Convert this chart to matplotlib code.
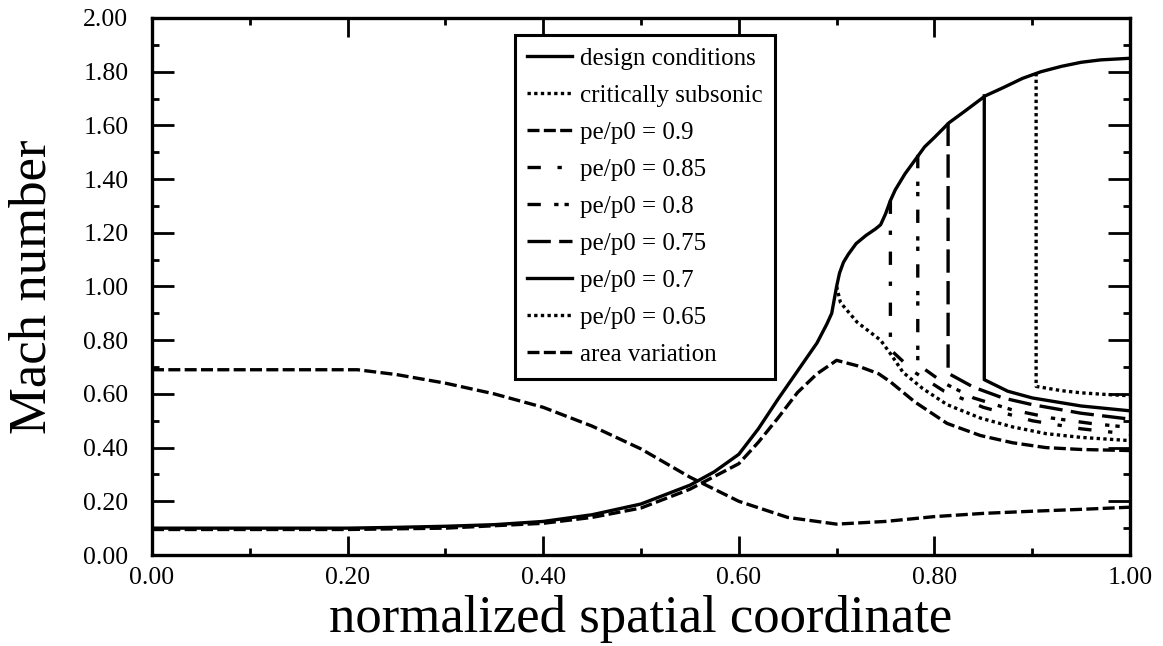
import numpy as np
import matplotlib.pyplot as plt
from matplotlib.ticker import MultipleLocator, FormatStrFormatter

plt.rcParams['font.family'] = ['Liberation Serif', 'DejaVu Serif']

# design conditions (solid)
x_design = [0.0, 0.1, 0.2, 0.25, 0.3, 0.35, 0.4, 0.45, 0.5, 0.55, 0.575, 0.6, 0.62, 0.64,
            0.66, 0.68, 0.69, 0.695, 0.70, 0.703, 0.707, 0.712, 0.72, 0.73, 0.74, 0.745,
            0.75, 0.755, 0.76, 0.77, 0.78, 0.79, 0.80, 0.815, 0.83, 0.852, 0.87, 0.89,
            0.909, 0.93, 0.95, 0.97, 1.0]
m_design = [0.10, 0.10, 0.10, 0.103, 0.107, 0.113, 0.125, 0.15, 0.19, 0.26, 0.31, 0.375, 0.47, 0.58,
            0.685, 0.79, 0.86, 0.90, 1.0, 1.05, 1.09, 1.12, 1.16, 1.19, 1.215, 1.23,
            1.27, 1.32, 1.36, 1.42, 1.47, 1.52, 1.555, 1.61, 1.65, 1.71, 1.74, 1.775,
            1.80, 1.82, 1.835, 1.844, 1.85]

# critically subsonic (dotted), after throat
x_crit = [0.70, 0.704, 0.721, 0.745, 0.755, 0.768, 0.788, 0.813, 0.847, 0.88, 0.914, 0.95, 1.0]
m_crit = [1.0, 0.94, 0.867, 0.80, 0.75, 0.68, 0.62, 0.56, 0.51, 0.477, 0.452, 0.438, 0.426]

# pe/p0 = 0.9 (subsonic throughout)
x_09 = [0.0, 0.2, 0.3, 0.4, 0.45, 0.5, 0.55, 0.6, 0.62, 0.64, 0.66, 0.68, 0.70,
        0.721, 0.743, 0.755, 0.78, 0.813, 0.847, 0.88, 0.914, 0.95, 1.0]
m_09 = [0.095, 0.095, 0.10, 0.118, 0.14, 0.175, 0.245, 0.34, 0.42, 0.51, 0.605, 0.675, 0.725,
        0.705, 0.675, 0.645, 0.57, 0.49, 0.445, 0.418, 0.40, 0.393, 0.389]

# shocked cases: shock position, then subsonic branch downstream
x_085 = [0.755, 0.755, 0.78, 0.81, 0.85, 0.90, 0.95, 1.0]
m_085 = [1.32, 0.765, 0.68, 0.61, 0.55, 0.50, 0.47, 0.45]
x_080 = [0.783, 0.783, 0.81, 0.84, 0.88, 0.92, 0.96, 1.0]
m_080 = [1.49, 0.71, 0.64, 0.585, 0.54, 0.51, 0.49, 0.475]
x_075 = [0.814, 0.814, 0.84, 0.87, 0.90, 0.95, 1.0]
m_075 = [1.61, 0.677, 0.625, 0.585, 0.56, 0.528, 0.506]
x_070 = [0.851, 0.851, 0.875, 0.90, 0.95, 1.0]
m_070 = [1.71, 0.653, 0.61, 0.585, 0.555, 0.537]
x_065 = [0.904, 0.904, 0.93, 0.95, 0.975, 1.0]
m_065 = [1.795, 0.628, 0.612, 0.604, 0.598, 0.593]

# area variation (dashed)
x_area = [0.0, 0.1, 0.21, 0.25, 0.3, 0.35, 0.4, 0.45, 0.5, 0.55, 0.6, 0.65, 0.70,
          0.75, 0.80, 0.85, 0.90, 0.95, 1.0]
a_area = [0.69, 0.69, 0.69, 0.672, 0.64, 0.60, 0.55, 0.48, 0.395, 0.29, 0.20, 0.14, 0.115,
          0.125, 0.143, 0.155, 0.163, 0.17, 0.178]

fig = plt.figure(figsize=(11.63, 6.46), dpi=100)
ax = fig.add_axes([152 / 1163, 1 - 555 / 646, 978 / 1163, 537 / 646])

lw = 2.4
dash = (0, (3.6, 1.3))
ax.plot(x_design, m_design, color='black', lw=lw, label='design conditions')
ax.plot(x_crit, m_crit, color='black', lw=lw, ls=(0, (1, 1)), label='critically subsonic')
ax.plot(x_09, m_09, color='black', lw=lw, ls=dash, label='pe/p0 = 0.9')
ax.plot(x_085, m_085, color='black', lw=lw, ls=(0, (4, 5, 1.3, 5)), label='pe/p0 = 0.85')
ax.plot(x_080, m_080, color='black', lw=lw, ls=(0, (4, 4, 1.3, 1.8, 1.3, 4)), label='pe/p0 = 0.8')
ax.plot(x_075, m_075, color='black', lw=lw, ls=(0, (7, 2.5)), label='pe/p0 = 0.75')
ax.plot(x_070, m_070, color='black', lw=lw, label='pe/p0 = 0.7')
ax.plot(x_065, m_065, color='black', lw=lw, ls=(0, (1, 1)), label='pe/p0 = 0.65')
ax.plot(x_area, a_area, color='black', lw=lw, ls=dash, label='area variation')

ax.set_xlim(0, 1)
ax.set_ylim(0, 2)
ax.xaxis.set_major_locator(MultipleLocator(0.2))
ax.xaxis.set_minor_locator(MultipleLocator(0.1))
ax.yaxis.set_major_locator(MultipleLocator(0.2))
ax.yaxis.set_minor_locator(MultipleLocator(0.1))
ax.xaxis.set_major_formatter(FormatStrFormatter('%.2f'))
ax.yaxis.set_major_formatter(FormatStrFormatter('%.2f'))
ax.tick_params(which='both', direction='in', top=True, right=True, width=2, labelsize=18.5)
ax.tick_params(axis='y', which='major', length=16, pad=17)
ax.tick_params(axis='y', which='minor', length=5)
ax.tick_params(axis='x', which='major', length=14, pad=9)
ax.tick_params(axis='x', which='minor', length=5)
for s in ax.spines.values():
    s.set_linewidth(2.4)

ax.set_xlabel('normalized spatial coordinate', fontsize=38)
ax.set_ylabel('Mach number', fontsize=38)
ax.xaxis.set_label_coords(0.5, -0.074)
ax.yaxis.set_label_coords(-0.098, 0.5)

leg = ax.legend(loc='upper left', bbox_to_anchor=(0.371, 0.968), borderaxespad=0,
                fontsize=18, handlelength=1.8, handletextpad=0.3, labelspacing=0.58,
                borderpad=0.5, fancybox=False, framealpha=1, edgecolor='black')
leg.get_frame().set_linewidth(2.2)

fig.savefig('out.png', dpi=100)
